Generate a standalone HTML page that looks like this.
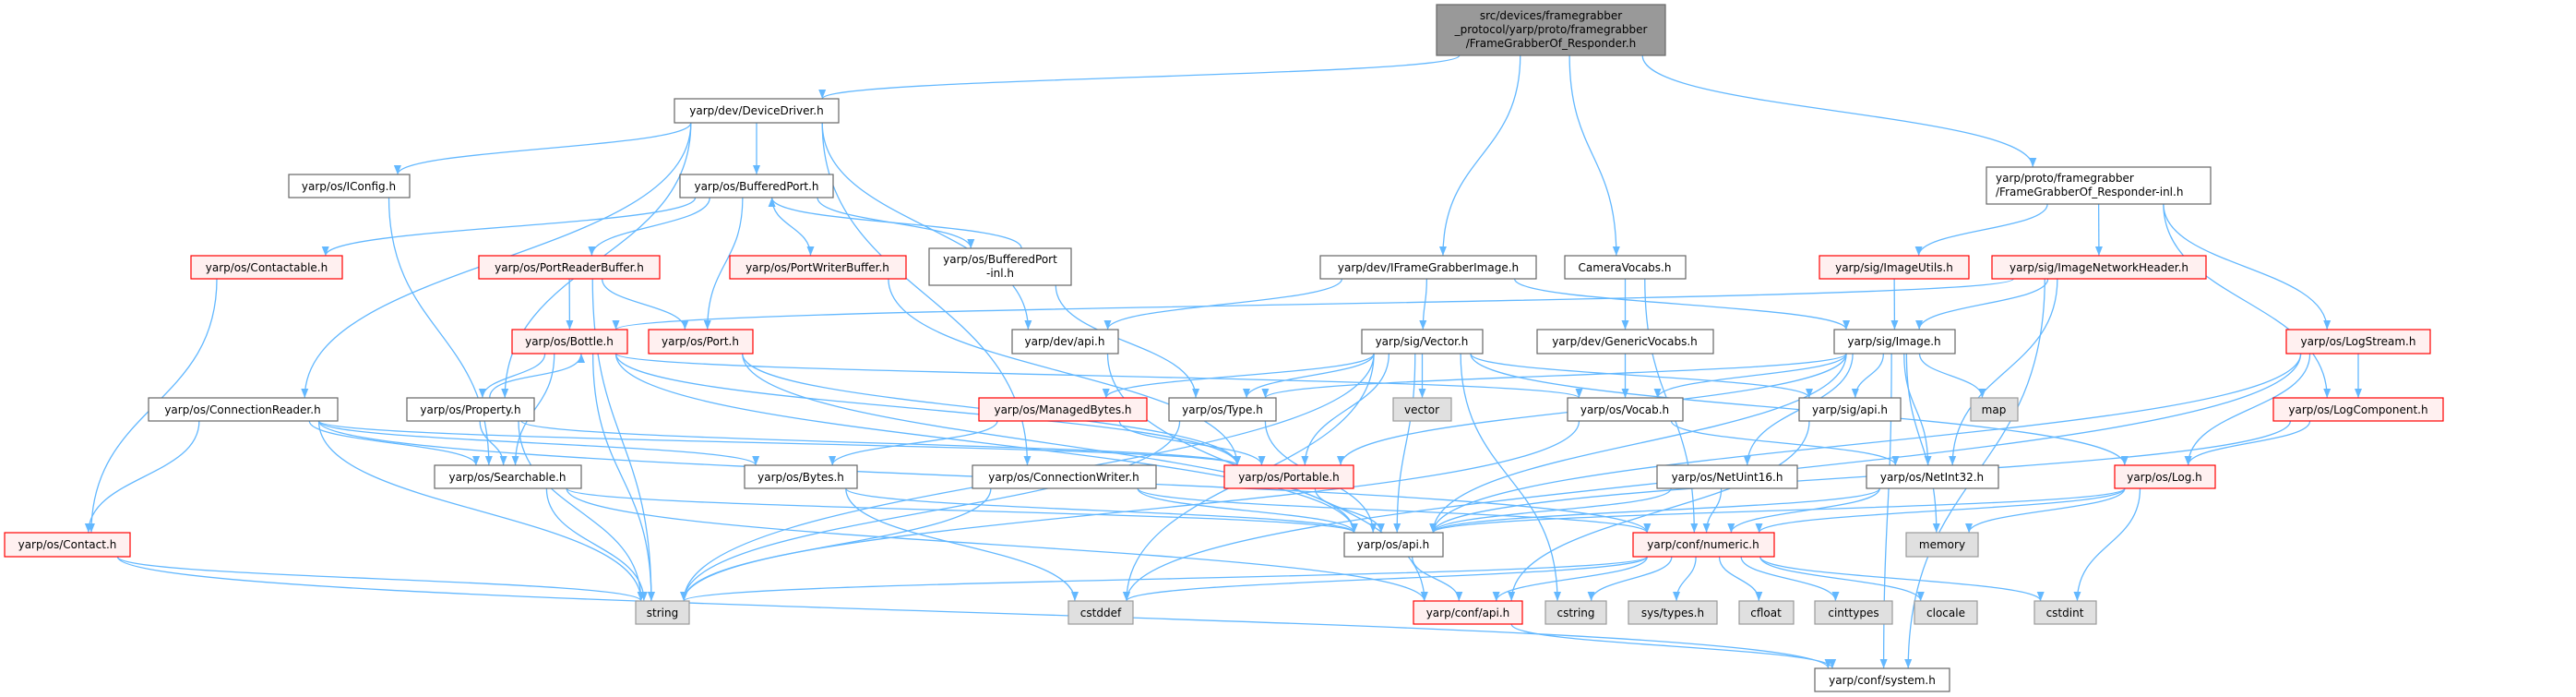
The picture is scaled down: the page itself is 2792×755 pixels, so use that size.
<!DOCTYPE html>
<html><head><meta charset="utf-8">
<style>
html,body{margin:0;padding:0;background:#fff;}
svg{display:block;}
text{font-family:"DejaVu Sans","Liberation Sans",sans-serif;font-size:12px;fill:#000;}
.w{fill:#fff;stroke:#666;stroke-width:1.2}
.r{fill:#fff0f0;stroke:#f00;stroke-width:1.2}
.g{fill:#e0e0e0;stroke:#999;stroke-width:1.2}
.k{fill:#999;stroke:#666;stroke-width:1.2}
</style></head>
<body>
<svg id="s" width="2792" height="755" viewBox="0 0 2792 755" xmlns="http://www.w3.org/2000/svg">
<defs><marker id="a" viewBox="0 0 10 10" refX="10" refY="5" markerWidth="10" markerHeight="10" markerUnits="userSpaceOnUse" orient="auto"><path d="M0,1 L10,5 L0,9 z" fill="#63b8ff"/></marker></defs>
<g id="edges" fill="none" stroke="#63b8ff" stroke-width="1.3"></g>
<g id="nodes">
<rect class="k" x="1557" y="5" width="248" height="55"/>
<text x="1681" y="21" text-anchor="middle">src/devices/framegrabber</text>
<text x="1681" y="36" text-anchor="middle">_protocol/yarp/proto/framegrabber</text>
<text x="1681" y="51" text-anchor="middle">/FrameGrabberOf_Responder.h</text>

<rect class="w" x="731" y="107" width="178" height="26"/><text x="820" y="124" text-anchor="middle">yarp/dev/DeviceDriver.h</text>
<rect class="w" x="2153" y="181" width="243" height="40"/><text x="2163" y="197">yarp/proto/framegrabber</text><text x="2163" y="212">/FrameGrabberOf_Responder-inl.h</text>
<rect class="w" x="313" y="189" width="131" height="25"/><text x="378" y="206" text-anchor="middle">yarp/os/IConfig.h</text>
<rect class="w" x="737" y="189" width="166" height="25"/><text x="820" y="206" text-anchor="middle">yarp/os/BufferedPort.h</text>
<rect class="r" x="207" y="277" width="164" height="25"/><text x="289" y="294" text-anchor="middle">yarp/os/Contactable.h</text>
<rect class="r" x="519" y="277" width="196" height="25"/><text x="617" y="294" text-anchor="middle">yarp/os/PortReaderBuffer.h</text>
<rect class="r" x="791" y="277" width="191" height="25"/><text x="886" y="294" text-anchor="middle">yarp/os/PortWriterBuffer.h</text>
<rect class="w" x="1007" y="269" width="154" height="40"/><text x="1084" y="285" text-anchor="middle">yarp/os/BufferedPort</text><text x="1084" y="300" text-anchor="middle">-inl.h</text>
<rect class="w" x="1431" y="277" width="234" height="25"/><text x="1548" y="294" text-anchor="middle">yarp/dev/IFrameGrabberImage.h</text>
<rect class="w" x="1696" y="277" width="131" height="25"/><text x="1761" y="294" text-anchor="middle">CameraVocabs.h</text>
<rect class="r" x="1972" y="277" width="162" height="25"/><text x="2053" y="294" text-anchor="middle">yarp/sig/ImageUtils.h</text>
<rect class="r" x="2159" y="277" width="232" height="25"/><text x="2275" y="294" text-anchor="middle">yarp/sig/ImageNetworkHeader.h</text>

<rect class="r" x="555" y="357" width="125" height="26"/><text x="617" y="374" text-anchor="middle">yarp/os/Bottle.h</text>
<rect class="r" x="703" y="357" width="113" height="26"/><text x="759" y="374" text-anchor="middle">yarp/os/Port.h</text>
<rect class="w" x="1097" y="357" width="115" height="26"/><text x="1154" y="374" text-anchor="middle">yarp/dev/api.h</text>
<rect class="w" x="1476" y="357" width="131" height="26"/><text x="1541" y="374" text-anchor="middle">yarp/sig/Vector.h</text>
<rect class="w" x="1666" y="357" width="191" height="26"/><text x="1761" y="374" text-anchor="middle">yarp/dev/GenericVocabs.h</text>
<rect class="w" x="1988" y="357" width="131" height="26"/><text x="2053" y="374" text-anchor="middle">yarp/sig/Image.h</text>
<rect class="r" x="2478" y="357" width="156" height="26"/><text x="2556" y="374" text-anchor="middle">yarp/os/LogStream.h</text>

<rect class="w" x="161" y="431" width="205" height="25"/><text x="263" y="448" text-anchor="middle">yarp/os/ConnectionReader.h</text>
<rect class="w" x="441" y="431" width="138" height="25"/><text x="510" y="448" text-anchor="middle">yarp/os/Property.h</text>
<rect class="r" x="1061" y="431" width="182" height="25"/><text x="1152" y="448" text-anchor="middle">yarp/os/ManagedBytes.h</text>
<rect class="w" x="1267" y="431" width="116" height="25"/><text x="1325" y="448" text-anchor="middle">yarp/os/Type.h</text>
<rect class="g" x="1510" y="431" width="63" height="25"/><text x="1541" y="448" text-anchor="middle">vector</text>
<rect class="w" x="1699" y="431" width="125" height="25"/><text x="1761" y="448" text-anchor="middle">yarp/os/Vocab.h</text>
<rect class="w" x="1950" y="431" width="110" height="25"/><text x="2005" y="448" text-anchor="middle">yarp/sig/api.h</text>
<rect class="g" x="2136" y="431" width="51" height="25"/><text x="2161" y="448" text-anchor="middle">map</text>
<rect class="r" x="2464" y="431" width="184" height="25"/><text x="2556" y="448" text-anchor="middle">yarp/os/LogComponent.h</text>

<rect class="w" x="471" y="504" width="159" height="25"/><text x="550" y="521" text-anchor="middle">yarp/os/Searchable.h</text>
<rect class="w" x="807" y="504" width="122" height="25"/><text x="868" y="521" text-anchor="middle">yarp/os/Bytes.h</text>
<rect class="w" x="1054" y="504" width="199" height="25"/><text x="1153" y="521" text-anchor="middle">yarp/os/ConnectionWriter.h</text>
<rect class="r" x="1327" y="504" width="140" height="25"/><text x="1397" y="521" text-anchor="middle">yarp/os/Portable.h</text>
<rect class="w" x="1796" y="504" width="152" height="25"/><text x="1872" y="521" text-anchor="middle">yarp/os/NetUint16.h</text>
<rect class="w" x="2023" y="504" width="143" height="25"/><text x="2094" y="521" text-anchor="middle">yarp/os/NetInt32.h</text>
<rect class="r" x="2292" y="504" width="109" height="25"/><text x="2346" y="521" text-anchor="middle">yarp/os/Log.h</text>

<rect class="r" x="5" y="577" width="136" height="26"/><text x="73" y="594" text-anchor="middle">yarp/os/Contact.h</text>
<rect class="w" x="1457" y="577" width="107" height="26"/><text x="1510" y="594" text-anchor="middle">yarp/os/api.h</text>
<rect class="r" x="1770" y="577" width="153" height="26"/><text x="1846" y="594" text-anchor="middle">yarp/conf/numeric.h</text>
<rect class="g" x="2066" y="577" width="78" height="26"/><text x="2105" y="594" text-anchor="middle">memory</text>

<rect class="g" x="689" y="651" width="58" height="25"/><text x="718" y="668" text-anchor="middle">string</text>
<rect class="g" x="1158" y="651" width="70" height="25"/><text x="1193" y="668" text-anchor="middle">cstddef</text>
<rect class="r" x="1532" y="651" width="118" height="25"/><text x="1591" y="668" text-anchor="middle">yarp/conf/api.h</text>
<rect class="g" x="1675" y="651" width="66" height="25"/><text x="1708" y="668" text-anchor="middle">cstring</text>
<rect class="g" x="1765" y="651" width="96" height="25"/><text x="1813" y="668" text-anchor="middle">sys/types.h</text>
<rect class="g" x="1885" y="651" width="59" height="25"/><text x="1914" y="668" text-anchor="middle">cfloat</text>
<rect class="g" x="1967" y="651" width="84" height="25"/><text x="2009" y="668" text-anchor="middle">cinttypes</text>
<rect class="g" x="2075" y="651" width="68" height="25"/><text x="2109" y="668" text-anchor="middle">clocale</text>
<rect class="g" x="2205" y="651" width="67" height="25"/><text x="2238" y="668" text-anchor="middle">cstdint</text>

<rect class="w" x="1967" y="724" width="146" height="25"/><text x="2040" y="741" text-anchor="middle">yarp/conf/system.h</text>
</g>
</svg>
<script>
var N={root:[1557,5,248,55],DD:[731,107,178,26],RI:[2153,181,243,40],IC:[313,189,131,25],BP:[737,189,166,25],
CT:[207,277,164,25],PRB:[519,277,196,25],PWB:[791,277,191,25],BPI:[1007,269,154,40],IFG:[1431,277,234,25],CV:[1696,277,131,25],IU:[1972,277,162,25],INH:[2159,277,232,25],
BO:[555,357,125,26],PO:[703,357,113,26],DA:[1097,357,115,26],VE:[1476,357,131,26],GV:[1666,357,191,26],IM:[1988,357,131,26],LS:[2478,357,156,26],
CR:[161,431,205,25],PR:[441,431,138,25],MB:[1061,431,182,25],TY:[1267,431,116,25],VC:[1510,431,63,25],VO:[1699,431,125,25],SA:[1950,431,110,25],MP:[2136,431,51,25],LC:[2464,431,184,25],
SE:[471,504,159,25],BY:[807,504,122,25],CW:[1054,504,199,25],PT:[1327,504,140,25],NU:[1796,504,152,25],NI:[2023,504,143,25],LG:[2292,504,109,25],
CO:[5,577,136,26],OA:[1457,577,107,26],NM:[1770,577,153,26],ME:[2066,577,78,26],
ST:[689,651,58,25],CD:[1158,651,70,25],CA:[1532,651,118,25],CS:[1675,651,66,25],SY:[1765,651,96,25],CF:[1885,651,59,25],CI:[1967,651,84,25],CL:[2075,651,68,25],CI2:[2205,651,67,25],CSY:[1967,724,146,25]};
var E="root DD,root IFG,root CV,root RI,DD IC,DD BP,DD CR,DD PR,DD DA,DD CW,IC SE,BP CT,BP PRB,BP PO,BP PWB,BP BPI,BPI BP,BPI TY,CT CO,PRB BO,PRB PO,PRB ST,PWB PT,BO PR,BO SE,BO ST,BO OA,BO VO,BO PT,PR BO,PR SE,PR ST,PR PT,PO PT,PO OA,CR CO,CR SE,CR ST,CR BY,CR PT,CR NM,SE ST,SE OA,SE CA,BY OA,BY CD,CO ST,CO CSY,DA CA,IFG DA,IFG VE,IFG IM,CV GV,CV NM,GV VO,VE MB,VE TY,VE VC,VE PT,VE ST,VE CD,VE CS,VE OA,VE SA,VE LG,MB BY,MB PT,TY ST,TY OA,VO ST,VO NI,CW ST,CW OA,CW NM,PT OA,IM TY,IM VO,IM SA,IM MP,IM NU,IM NI,IM ME,IM PT,IM CSY,IM OA,IU IM,INH IM,INH BO,INH NI,INH CSY,RI IU,RI INH,RI LS,RI LC,LS LC,LS LG,LS OA,LS CD,LC LG,LC OA,LG OA,LG ME,LG CI2,LG NM,SA CA,NU NM,NU OA,NI NM,NI OA,OA CA,NM ST,NM CD,NM CA,NM CS,NM SY,NM CF,NM CI,NM CL,NM CI2,CA CSY".split(",");
function cl(v,m){return Math.max(-m,Math.min(m,v));}
var g=document.getElementById("edges"),ns="http://www.w3.org/2000/svg";
E.forEach(function(e){var p=e.split(" "),a=N[p[0]],b=N[p[1]];var d;
var acx=a[0]+a[2]/2,bcx=b[0]+b[2]/2;
var ax=acx+cl((bcx-acx)*0.25,a[2]*0.4),ay=a[1]+a[3],bx=bcx+cl((acx-bcx)*0.12,b[2]*0.4),by=b[1];
if(b[1]<a[1]){ax=a[0]+a[2]*0.65;ay=a[1];bx=b[0]+b[2]*0.6;by=b[1]+b[3];
 d="M"+ax+","+ay+" C"+ax+","+(ay-30)+" "+bx+","+(by+30)+" "+bx+","+by;}
else{if(p[0]=="PR"&&p[1]=="BO"){ax=a[0]+a[2]*0.7;ay=a[1];bx=b[0]+b[2]*0.45;by=b[1]+b[3];d="M"+ax+","+ay+" L"+bx+","+by;}
 else{var dy=(by-ay)*0.5;d="M"+ax+","+ay+" C"+ax+","+(ay+dy)+" "+bx+","+(by-dy)+" "+bx+","+by;}}
var pa=document.createElementNS(ns,"path");pa.setAttribute("d",d);pa.setAttribute("marker-end","url(#a)");g.appendChild(pa);});
</script>
</body></html>
